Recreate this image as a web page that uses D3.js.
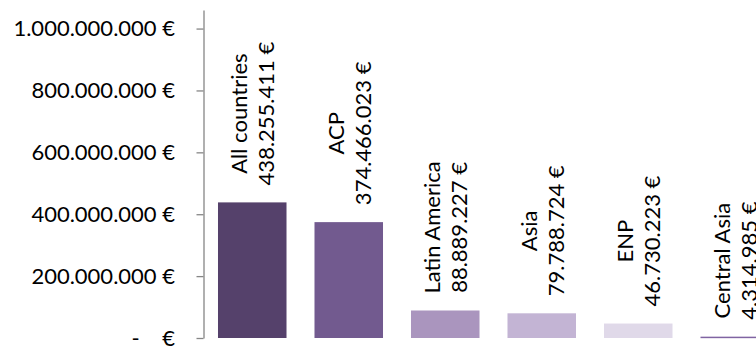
<!DOCTYPE html>
<html>
<head>
<meta charset="utf-8">
<script src="https://cdn.jsdelivr.net/npm/d3@7"></script>
<style>
  html, body { margin: 0; padding: 0; background: #fff; overflow: hidden; }
  svg { display: block; font-family: Lato, "Open Sans", sans-serif; }
</style>
</head>
<body>
<svg id="chart" width="756" height="347"></svg>
<script>
// ---- data ----
const categories = ["All countries", "ACP", "Latin America", "Asia", "ENP", "Central Asia"];
const values = [438255411, 374466023, 88889227, 79788724, 46730223, 4314985];
const barColors = ["#55416b", "#725a8f", "#aa95be", "#c3b4d4", "#e0d9e9", "#8064a2"];
const yTicks = [0, 200000000, 400000000, 600000000, 800000000, 1000000000];
const yMax = 1060000000;

// ---- layout ----
const W = 756, H = 347;
const fontSize = 22;
const svg = d3.select("#chart");

const locale = d3.formatLocale({decimal: ",", thousands: ".", grouping: [3], currency: ["", " €"]});
const fmt = locale.format(",.0f");
const euro = v => v === 0 ? "-    €" : fmt(v) + " €";

const y = d3.scaleLinear().domain([0, yMax]).range([338, 10]);
// plot area continues past the right edge of the window (the last label is clipped)
const x = d3.scaleBand().domain(categories).range([204, 783]).paddingInner(0.29).paddingOuter(0.145);

// bars
svg.append("g").selectAll("rect").data(categories).join("rect")
  .attr("x", d => x(d))
  .attr("width", x.bandwidth())
  .attr("y", (d, i) => y(values[i]))
  .attr("height", (d, i) => Math.max(1.5, y(0) - y(values[i])))
  .attr("fill", (d, i) => barColors[i]);

// y axis
const yAxis = d3.axisLeft(y).tickValues(yTicks).tickSizeInner(7).tickSizeOuter(0)
  .tickPadding(21.5).tickFormat(euro);
const gy = svg.append("g").attr("transform", "translate(203.5,0)").call(yAxis);
gy.select(".domain").attr("stroke", "#868686").attr("stroke-width", 1.3);
gy.selectAll(".tick line").attr("stroke", "#868686").attr("stroke-width", 1.3);
gy.selectAll(".tick text").attr("font-size", fontSize).attr("fill", "#000")
  .attr("font-family", "Lato, sans-serif").attr("xml:space", "preserve").style("white-space", "pre");

// labels (rotated, two centred lines above the bar)
const labelGap = 17;
const lg = svg.append("g");
categories.forEach((c, i) => {
  const cx = x(c) + x.bandwidth() / 2;
  const top = y(values[i]);
  const g = lg.append("g");
  const t1 = g.append("text").text(c).attr("font-size", fontSize).attr("text-anchor", "middle")
    .attr("y", -13).attr("dy", "0.36em").attr("fill", "#000");
  const t2 = g.append("text").text(euro(values[i])).attr("font-size", fontSize).attr("text-anchor", "middle")
    .attr("y", 14).attr("dy", "0.36em").attr("fill", "#000");
  const len = Math.max(t1.node().getComputedTextLength(), t2.node().getComputedTextLength());
  const centre = top - labelGap - len / 2;
  g.attr("transform", `translate(${cx},${centre}) rotate(-90)`);
});
</script>
</body>
</html>
